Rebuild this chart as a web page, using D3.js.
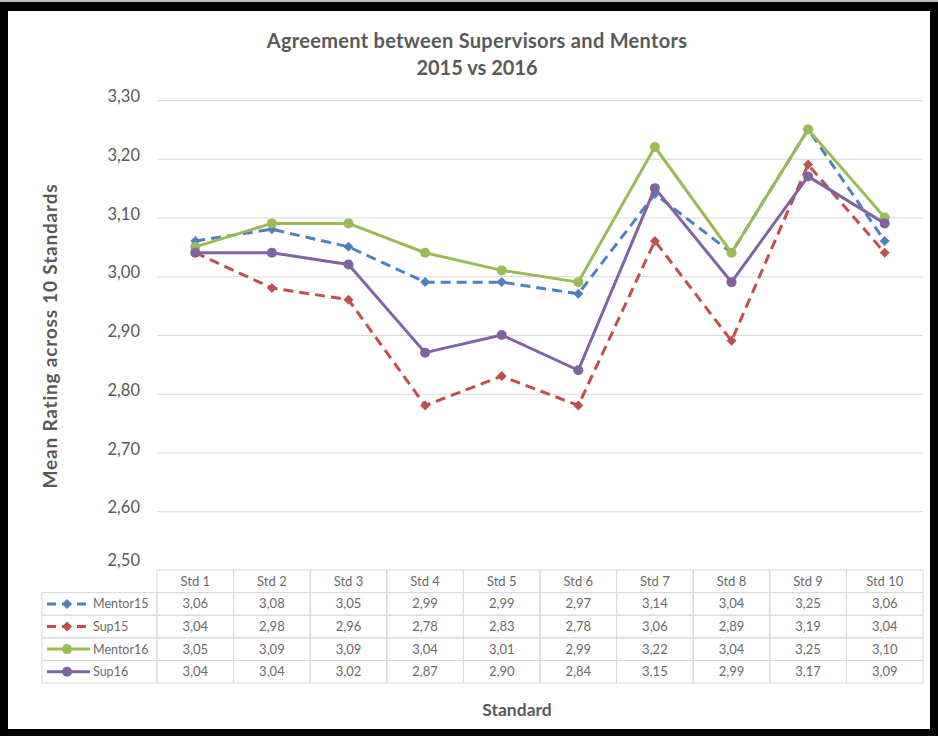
<!DOCTYPE html>
<html>
<head>
<meta charset="utf-8">
<script src="https://cdn.jsdelivr.net/npm/d3@7"></script>
<style>
  html, body { margin: 0; padding: 0; background: #fff; }
  svg text { font-family: Lato, "Open Sans", sans-serif; }
</style>
</head>
<body>
<svg id="chart" width="938" height="736"></svg>
<script>
// Mean ratings per standard, as listed in the data table
const standards = ["Std 1", "Std 2", "Std 3", "Std 4", "Std 5", "Std 6", "Std 7", "Std 8", "Std 9", "Std 10"];
const mentor15 = [3.06, 3.08, 3.05, 2.99, 2.99, 2.97, 3.14, 3.04, 3.25, 3.06];
const sup15    = [3.04, 2.98, 2.96, 2.78, 2.83, 2.78, 3.06, 2.89, 3.19, 3.04];
const mentor16 = [3.05, 3.09, 3.09, 3.04, 3.01, 2.99, 3.22, 3.04, 3.25, 3.10];
const sup16    = [3.04, 3.04, 3.02, 2.87, 2.90, 2.84, 3.15, 2.99, 3.17, 3.09];
const seriesNames = ["Mentor15", "Sup15", "Mentor16", "Sup16"];
const yTicks = [2.50, 2.60, 2.70, 2.80, 2.90, 3.00, 3.10, 3.20, 3.30];

const series = [
  { name: seriesNames[0], values: mentor15, color: "#4F81BD", dashed: true,  marker: "diamond" },
  { name: seriesNames[1], values: sup15,    color: "#C0504D", dashed: true,  marker: "diamond" },
  { name: seriesNames[2], values: mentor16, color: "#9BBB59", dashed: false, marker: "circle" },
  { name: seriesNames[3], values: sup16,    color: "#8064A2", dashed: false, marker: "circle" }
];

const fmt = v => d3.format(".2f")(v).replace(".", ",");
const textColor = "#595959";
const cellTextColor = "#6a6a6a";
const gridColor = "#d9d9d9";

const svg = d3.select("#chart");

// Black frame around the chart
svg.append("rect").attr("x", 0).attr("y", 0).attr("width", 938).attr("height", 736).attr("fill", "#000");
svg.append("rect").attr("x", 0).attr("y", 0).attr("width", 938).attr("height", 2).attr("fill", "#bbb");
svg.append("rect").attr("x", 8).attr("y", 11).attr("width", 922).attr("height", 718).attr("fill", "#fff");

const plot = { left: 157, right: 923, top: 100, bottom: 570 };

const x = d3.scaleBand().domain(standards).range([plot.left, plot.right]);
const y = d3.scaleLinear().domain([2.5, 3.3]).range([plot.bottom, plot.top]);

// Title
svg.append("text").attr("x", 477).attr("y", 48).attr("text-anchor", "middle")
  .attr("font-size", 20).attr("font-weight", "bold").attr("fill", textColor)
  .attr("letter-spacing", 0.3)
  .text("Agreement between Supervisors and Mentors");
svg.append("text").attr("x", 477).attr("y", 75).attr("text-anchor", "middle")
  .attr("font-size", 20).attr("font-weight", "bold").attr("fill", textColor)
  .text("2015 vs 2016");

// Horizontal gridlines and y labels
const yAxis = d3.axisLeft(y).tickValues(yTicks).tickFormat(fmt)
  .tickSize(-(plot.right - plot.left)).tickPadding(17);
const gy = svg.append("g").attr("transform", `translate(${plot.left},0)`).call(yAxis);
gy.select(".domain").remove();
gy.selectAll(".tick line").attr("stroke", gridColor).attr("stroke-width", 1);
gy.selectAll(".tick text").attr("fill", textColor).attr("font-size", 16.5)
  .attr("font-family", "Lato, sans-serif").attr("dy", "0.1em");
// bottom tick label sits slightly higher, above the table
gy.selectAll(".tick").filter(d => d === 2.5).select("line").remove();
gy.selectAll(".tick").filter(d => d === 2.5).select("text").attr("dy", "-0.3em");

// Y axis title
svg.append("text")
  .attr("transform", "translate(57,336) rotate(-90)")
  .attr("text-anchor", "middle").attr("font-size", 19).attr("font-weight", "bold")
  .attr("letter-spacing", 0.8)
  .attr("fill", textColor).text("Mean Rating across 10 Standards");

// Lines and markers
const line = d3.line().x((d, i) => x(standards[i]) + x.bandwidth() / 2).y(d => y(d));
const diamond = d3.symbol().type(d3.symbolSquare).size(50);

function marker(g, s, cx, cy) {
  if (s.marker === "circle") {
    g.append("circle").attr("cx", cx).attr("cy", cy).attr("r", 5).attr("fill", s.color);
  } else {
    g.append("path").attr("d", diamond)
      .attr("transform", `translate(${cx},${cy}) rotate(45)`).attr("fill", s.color);
  }
}

series.forEach(s => {
  svg.append("path").datum(s.values)
    .attr("d", line).attr("fill", "none").attr("stroke", s.color).attr("stroke-width", 3)
    .attr("stroke-linejoin", "round")
    .attr("stroke-dasharray", s.dashed ? "10,6" : null);
  const g = svg.append("g");
  s.values.forEach((v, i) => marker(g, s, x(standards[i]) + x.bandwidth() / 2, y(v)));
});

// Data table below the plot
const rowH = 22.6;
const tableTop = plot.bottom;
const legendLeft = 42;
const tbl = svg.append("g");

// header row (category names)
standards.forEach(s => {
  tbl.append("rect").attr("x", x(s)).attr("y", tableTop).attr("width", x.bandwidth()).attr("height", rowH)
    .attr("fill", "none").attr("stroke", gridColor);
  tbl.append("text").attr("x", x(s) + x.bandwidth() / 2).attr("y", tableTop + rowH / 2 + 4.5)
    .attr("text-anchor", "middle").attr("font-size", 13).attr("fill", cellTextColor).text(s);
});

series.forEach((s, r) => {
  const ry = tableTop + rowH * (r + 1);
  // legend cell
  tbl.append("rect").attr("x", legendLeft).attr("y", ry).attr("width", plot.left - legendLeft).attr("height", rowH)
    .attr("fill", "none").attr("stroke", gridColor);
  const ly = ry + rowH / 2;
  tbl.append("line").attr("x1", 47).attr("x2", 90).attr("y1", ly).attr("y2", ly)
    .attr("stroke", s.color).attr("stroke-width", 3)
    .attr("stroke-dasharray", s.dashed ? "9,6" : null);
  marker(tbl, s, 67, ly);
  tbl.append("text").attr("x", 93).attr("y", ly + 4.5).attr("font-size", 12.5)
    .attr("fill", cellTextColor).text(s.name);
  // value cells
  s.values.forEach((v, i) => {
    tbl.append("rect").attr("x", x(standards[i])).attr("y", ry).attr("width", x.bandwidth()).attr("height", rowH)
      .attr("fill", "none").attr("stroke", gridColor);
    tbl.append("text").attr("x", x(standards[i]) + x.bandwidth() / 2).attr("y", ly + 4.5)
      .attr("text-anchor", "middle").attr("font-size", 13).attr("fill", cellTextColor).text(fmt(v));
  });
});

// X axis title
svg.append("text").attr("x", 517).attr("y", 716).attr("text-anchor", "middle")
  .attr("font-size", 17.5).attr("font-weight", "bold").attr("fill", textColor).text("Standard");
</script>
</body>
</html>
